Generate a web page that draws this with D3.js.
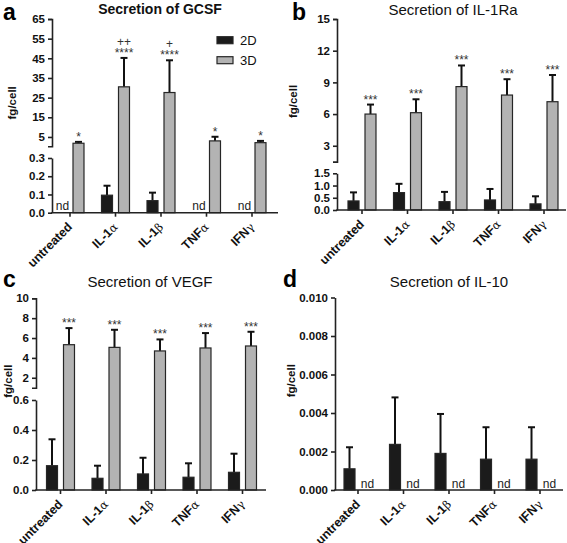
<!DOCTYPE html>
<html><head><meta charset="utf-8">
<script src="https://cdn.jsdelivr.net/npm/d3@7"></script>
<style>
body{margin:0;background:#fff}
svg{display:block}
text{font-family:"Liberation Sans",Arial,sans-serif}
</style>
</head><body>
<svg id="chart" width="567" height="543"></svg>
<script>
// ---------- data ----------
const categories = ["untreated", "IL-1α", "IL-1β", "TNFα", "IFNγ"];
const series = ["2D", "3D"];

// GCSF (a)
const gcsf2D    = [null, 0.096, 0.066, null, null];
const gcsf2DSD  = [null, 0.052, 0.044, null, null];
const gcsf3D    = [1.8, 30.5, 27.6, 3.0, 2.1];
const gcsf3DSD  = [0.7, 14.7, 16.4, 2.1, 0.9];
const gcsfStars = ["*", "****", "****", "*", "*"];
const gcsfPlus  = ["", "++", "+", "", ""];
const gcsfTicksUpper = [5, 15, 25, 35, 45, 55, 65];
const gcsfTicksLower = [0, 0.1, 0.2, 0.3];

// IL-1Ra (b)
const il1ra2D   = [0.37, 0.71, 0.34, 0.41, 0.25];
const il1ra2DSD = [0.35, 0.36, 0.40, 0.45, 0.31];
const il1ra3D   = [6.0, 6.13, 8.6, 7.8, 7.17];
const il1ra3DSD = [0.9, 1.27, 2.0, 1.5, 2.53];
const il1raStars = ["***", "***", "***", "***", "***"];
const il1raTicksUpper = [3, 6, 9, 12, 15];
const il1raTicksLower = [0, 0.5, 1.0, 1.5];

// VEGF (c)
const vegf2D   = [0.162, 0.078, 0.107, 0.085, 0.118];
const vegf2DSD = [0.176, 0.084, 0.108, 0.093, 0.124];
const vegf3D   = [5.33, 5.06, 4.7, 5.0, 5.2];
const vegf3DSD = [1.67, 1.77, 1.16, 1.5, 1.43];
const vegfStars = ["***", "***", "***", "***", "***"];
const vegfTicksUpper = [2, 4, 6, 8, 10];
const vegfTicksLower = [0, 0.2, 0.4, 0.6];

// IL-10 (d)
const il10_2D   = [0.0011, 0.00237, 0.0019, 0.0016, 0.0016];
const il10_2DSD = [0.00112, 0.00244, 0.00205, 0.00166, 0.00166];
const il10_3D   = [null, null, null, null, null];
const il10_3DSD = [null, null, null, null, null];
const il10Ticks = [0, 0.002, 0.004, 0.006, 0.008, 0.010];

// ---------- drawing ----------
const svg = d3.select("#chart");
const FILL = {"2D": "#1b1b1b", "3D": "#b3b3b3"};
const AX = "#222";

function drawPanel(cfg) {
  const g = svg.append("g");
  const lower = d3.scaleLinear().domain(cfg.lowerDomain).range(cfg.lowerRange);
  const upper = cfg.upperDomain ? d3.scaleLinear().domain(cfg.upperDomain).range(cfg.upperRange) : null;
  const lowMax = cfg.lowerDomain[1];
  const y = v => (!upper || v <= lowMax) ? lower(v) : upper(v);
  const y0 = lower(0);
  const yTop = upper ? cfg.upperRange[1] : cfg.lowerRange[1];

  const x = d3.scaleBand().domain(categories).range(cfg.xRange)
    .paddingInner(0.385).paddingOuter(0.1925);
  const xs = d3.scaleBand().domain(series).range([0, x.bandwidth()]).paddingInner(0.353);

  // panel letter and title
  g.append("text").attr("x", cfg.letterPos[0]).attr("y", cfg.letterPos[1])
    .attr("font-size", 23).attr("font-weight", "bold").text(cfg.letter);
  g.append("text").attr("x", cfg.titlePos[0]).attr("y", cfg.titlePos[1])
    .attr("text-anchor", "middle").attr("font-size", cfg.titleBold ? 14 : 15)
    .attr("font-weight", cfg.titleBold ? "bold" : "normal").attr("fill", "#111").text(cfg.title);

  // y label
  g.append("text")
    .attr("transform", `translate(${cfg.ylabelX},${(yTop + y0) / 2 - 13}) rotate(-90)`)
    .attr("text-anchor", "middle").attr("font-size", 11.5).attr("font-weight", "bold")
    .attr("fill", "#111").text("fg/cell");

  // bars
  const sets = [
    {s: "2D", vals: cfg.d2, sd: cfg.d2sd},
    {s: "3D", vals: cfg.d3, sd: cfg.d3sd}
  ];
  sets.forEach(set => {
    categories.forEach((c, i) => {
      const v = set.vals[i];
      const bx = x(c) + xs(set.s);
      const bw = xs.bandwidth();
      if (v == null) {
        g.append("text").attr("x", bx + bw / 2 + 1).attr("y", y0 - 2.5)
          .attr("text-anchor", "middle").attr("font-size", 12).attr("fill", "#222").text("nd");
        return;
      }
      const top = y(v);
      const errTop = y(v + set.sd[i]);
      const cx = bx + bw / 2;
      g.append("line").attr("x1", cx).attr("x2", cx).attr("y1", top).attr("y2", errTop)
        .attr("stroke", "#111").attr("stroke-width", 2);
      g.append("line").attr("x1", cx - 3.5).attr("x2", cx + 3.5).attr("y1", errTop).attr("y2", errTop)
        .attr("stroke", "#111").attr("stroke-width", 2);
      g.append("rect").attr("x", bx).attr("y", top).attr("width", bw).attr("height", y0 - top)
        .attr("fill", FILL[set.s]).attr("stroke", "#262626").attr("stroke-width", 1.2);
      if (set.s === "3D" && cfg.stars) {
        const sy = errTop - 1;
        const hasPlus = cfg.plus && cfg.plus[i];
        const t = g.append("text").attr("text-anchor", "middle")
          .attr("font-size", 12).attr("fill", "#333");
        if (hasPlus) {
          t.append("tspan").attr("x", cx).attr("y", sy - 11).text(cfg.plus[i]);
          t.append("tspan").attr("x", cx).attr("y", sy).text(cfg.stars[i]);
        } else {
          t.attr("x", cx).attr("y", sy).text(cfg.stars[i]);
        }
      }
    });
  });

  // y axes
  const styleAxis = sel => {
    sel.selectAll("path,line").attr("stroke", AX).attr("stroke-width", 1.6);
    sel.selectAll("text").attr("font-size", 11.5).attr("font-weight", "bold")
      .attr("font-family", "'Liberation Sans',Arial,sans-serif").attr("fill", "#111");
  };
  g.append("g").attr("transform", `translate(${cfg.yAxisX},0)`)
    .call(d3.axisLeft(lower).tickValues(cfg.lowerTicks).tickFormat(d3.format(cfg.lowerFmt)).tickSize(4).tickSizeOuter(0).tickPadding(3))
    .call(styleAxis);
  if (upper) {
    g.append("g").attr("transform", `translate(${cfg.yAxisX},0)`)
      .call(d3.axisLeft(upper).tickValues(cfg.upperTicks).tickFormat(d3.format(cfg.upperFmt)).tickSize(4).tickSizeOuter(4).tickPadding(3))
      .call(styleAxis);
  }

  // x axis
  const xa = g.append("g").attr("transform", `translate(0,${y0})`)
    .call(d3.axisBottom(x).tickSize(4).tickFormat(""));
  xa.select(".domain").remove();
  xa.selectAll("line").attr("stroke", AX).attr("stroke-width", 1.6);
  g.append("line").attr("x1", cfg.yAxisX - 0.8).attr("x2", cfg.xEnd).attr("y1", y0).attr("y2", y0)
    .attr("stroke", AX).attr("stroke-width", 1.6);

  // category labels
  categories.forEach(c => {
    const cx = x(c) + x.bandwidth() / 2;
    const t = g.append("text")
      .attr("transform", `translate(${cx + 3},${y0 + 15}) rotate(-45)`)
      .attr("text-anchor", "end").attr("font-size", 12.5).attr("font-weight", "bold").attr("fill", "#111");
    const last = c.slice(-1);
    if (/[αβγ]/.test(last)) {
      t.append("tspan").text(c.slice(0, -1));
      t.append("tspan").attr("font-weight", "normal").attr("font-family", "'DejaVu Serif',serif")
        .attr("font-size", 11.5).text(last);
    } else {
      t.text(c);
    }
  });

  // legend
  if (cfg.legend) {
    series.forEach((s, i) => {
      const ly = cfg.legend[1] + i * 20;
      g.append("rect").attr("x", cfg.legend[0]).attr("y", ly).attr("width", 16).attr("height", 7)
        .attr("fill", FILL[s]).attr("stroke", "#262626").attr("stroke-width", 1.2);
      g.append("text").attr("x", cfg.legend[0] + 23).attr("y", ly + 8)
        .attr("font-size", 13).attr("fill", "#111").text(s);
    });
  }
}

drawPanel({
  letter: "a", letterPos: [3, 20], title: "Secretion of GCSF", titlePos: [160, 14], titleBold: true,
  ylabelX: 16, yAxisX: 52, xEnd: 278, xRange: [47.25, 274.75],
  lowerDomain: [0, 0.3], lowerRange: [212.7, 158], lowerTicks: gcsfTicksLower, lowerFmt: ".1f",
  upperDomain: [0.3, 65], upperRange: [146.2, 19], upperTicks: gcsfTicksUpper, upperFmt: "d",
  d2: gcsf2D, d2sd: gcsf2DSD, d3: gcsf3D, d3sd: gcsf3DSD, stars: gcsfStars, plus: gcsfPlus,
  legend: [217, 36.7]
});
drawPanel({
  letter: "b", letterPos: [292, 20], title: "Secretion of IL-1Ra", titlePos: [453, 15],
  ylabelX: 297, yAxisX: 337, xEnd: 566, xRange: [339.25, 566.75],
  lowerDomain: [0, 1.5], lowerRange: [210, 173.3], lowerTicks: il1raTicksLower, lowerFmt: ".1f",
  upperDomain: [1.5, 15], upperRange: [161.6, 19], upperTicks: il1raTicksUpper, upperFmt: "d",
  d2: il1ra2D, d2sd: il1ra2DSD, d3: il1ra3D, d3sd: il1ra3DSD, stars: il1raStars
});
drawPanel({
  letter: "c", letterPos: [3, 287], title: "Secretion of VEGF", titlePos: [150, 287],
  ylabelX: 12, yAxisX: 36, xEnd: 266, xRange: [37.75, 265.25],
  lowerDomain: [0, 0.6], lowerRange: [490, 400], lowerTicks: vegfTicksLower, lowerFmt: ".1f",
  upperDomain: [1, 10], upperRange: [387.7, 298.3], upperTicks: vegfTicksUpper, upperFmt: "d",
  d2: vegf2D, d2sd: vegf2DSD, d3: vegf3D, d3sd: vegf3DSD, stars: vegfStars
});
drawPanel({
  letter: "d", letterPos: [283, 287], title: "Secretion of IL-10", titlePos: [449, 287],
  ylabelX: 295, yAxisX: 335, xEnd: 563, xRange: [335.25, 562.75],
  lowerDomain: [0, 0.010], lowerRange: [490, 297.5], lowerTicks: il10Ticks, lowerFmt: ".3f",
  d2: il10_2D, d2sd: il10_2DSD, d3: il10_3D, d3sd: il10_3DSD
});
</script>
</body></html>
